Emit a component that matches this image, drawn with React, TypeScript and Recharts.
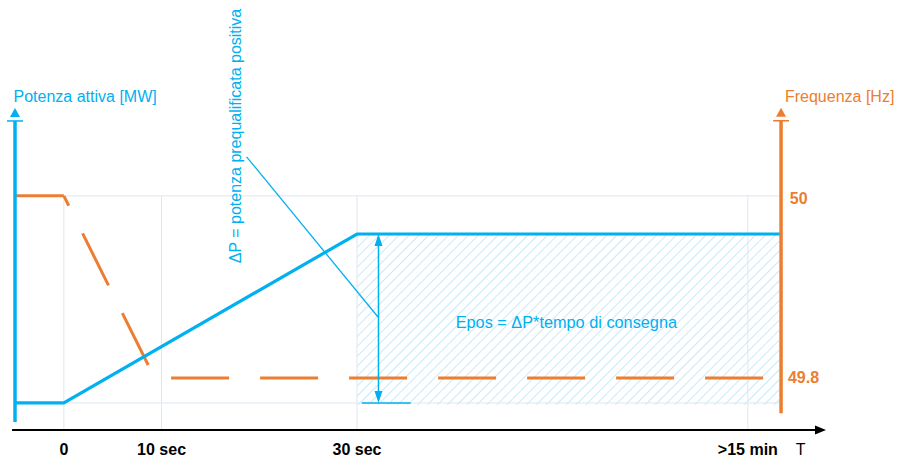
import { ComposedChart, Line, XAxis, YAxis, ReferenceLine, ReferenceArea, ReferenceDot } from 'recharts'

const BLUE = '#00b0f0'
const ORANGE = '#ed7d31'
const GRID = '#dfe7f1'
const FONT = '"Liberation Sans", Arial, sans-serif'

// schematic time axis: 70 stands for ">15 min", 75.4 carries the "T" label
const tickValues = [0, 10, 30, 70, 75.4]
const tickLabels = ['0', '10 sec', '30 sec', '>15 min', 'T']
const gridTimes = [0, 10, 30, 70]

// active power (MW, arbitrary: 0 = base, 10 = ΔP)
const powerT = [-5, 0, 30, 73.4]
const powerMW = [0, 0, 10, 10]

// frequency (Hz)
const freqSolidT = [-5, 0]
const freqSolidHz = [50, 50]
const freqDashT = [0, 9.3, 71.9]
const freqDashHz = [50, 49.8, 49.8]

const powerData = powerT.map((t, i) => ({ t, p: powerMW[i] }))
const freqSolid = freqSolidT.map((t, i) => ({ t, f: freqSolidHz[i] }))
const freqDash = freqDashT.map((t, i) => ({ t, f: freqDashHz[i] }))

type ArrowOpts = { color: string; width: number; head?: number; half?: number; bar?: number; both?: boolean }

const arrowShape = (o: ArrowOpts) => (props: any) => {
  const { x1, y1, x2, y2 } = props
  const head = o.head ?? 0
  const half = o.half ?? 0
  const dx = x2 - x1
  const dy = y2 - y1
  const len = Math.hypot(dx, dy) || 1
  const ux = dx / len
  const uy = dy / len
  const nx = -uy
  const ny = ux
  const tri = (tx: number, ty: number, sx: number, sy: number) => {
    const bx = tx - sx * head
    const by = ty - sy * head
    return `${tx},${ty} ${bx + nx * half},${by + ny * half} ${bx - nx * half},${by - ny * half}`
  }
  const gap = o.bar ? head + 4 : head * 0.8
  const ex = x2 - ux * gap
  const ey = y2 - uy * gap
  const sx0 = o.both ? x1 + ux * head * 0.8 : x1
  const sy0 = o.both ? y1 + uy * head * 0.8 : y1
  return (
    <g>
      <line x1={sx0} y1={sy0} x2={ex} y2={ey} stroke={o.color} strokeWidth={o.width} />
      {head > 0 && <polygon points={tri(x2, y2, ux, uy)} fill={o.color} />}
      {o.both && head > 0 && <polygon points={tri(x1, y1, -ux, -uy)} fill={o.color} />}
      {o.bar ? (
        <line
          x1={ex + nx * o.bar}
          y1={ey + ny * o.bar}
          x2={ex - nx * o.bar}
          y2={ey - ny * o.bar}
          stroke={o.color}
          strokeWidth={1.5}
        />
      ) : null}
    </g>
  )
}

const note =
  (text: string, color: string, opts: { bold?: boolean; rotate?: boolean; anchor?: string; size?: number } = {}) =>
  (props: any) => {
    const { cx, cy } = props
    return (
      <text
        x={cx}
        y={cy}
        fill={color}
        fontFamily={FONT}
        fontSize={opts.size ?? 16}
        fontWeight={opts.bold ? 700 : 400}
        textAnchor={opts.anchor ?? 'start'}
        dominantBaseline="central"
        transform={opts.rotate ? `rotate(-90 ${cx} ${cy})` : undefined}
      >
        {text}
      </text>
    )
  }

function TimeTick({ x, y, payload }: any) {
  const i = tickValues.indexOf(payload.value)
  const label = tickLabels[i] ?? ''
  return (
    <text
      x={x}
      y={y}
      dy="0.71em"
      textAnchor="middle"
      fontFamily={FONT}
      fontSize={16}
      fontWeight={label === 'T' ? 400 : 700}
      fill="#000"
    >
      {label}
    </text>
  )
}

export default function App() {
  return (
    <div style={{ position: 'absolute', left: 0, top: 0, width: 897, height: 457, background: '#fff' }}>
      <ComposedChart width={897} height={457} margin={{ top: 0, right: 71, bottom: 0, left: 15 }}>
        <defs>
          <pattern id="hatch" width="7" height="7" patternUnits="userSpaceOnUse" patternTransform="rotate(45)">
            <line x1="0" y1="0" x2="0" y2="7" stroke="#b6e2f6" strokeWidth={1.5} />
          </pattern>
        </defs>
        <XAxis
          dataKey="t"
          type="number"
          domain={[-5, 78]}
          allowDataOverflow
          ticks={tickValues}
          interval={0}
          axisLine={false}
          tickLine={false}
          tickSize={0}
          tickMargin={14}
          height={27}
          tick={<TimeTick />}
        />
        <YAxis yAxisId="p" type="number" domain={[-1.6, 23.85]} allowDataOverflow hide />
        <YAxis yAxisId="f" type="number" domain={[49.743, 50.215]} allowDataOverflow hide />

        {/* light grid */}
        <ReferenceLine yAxisId="f" segment={[{ x: -5, y: 50 }, { x: 73.4, y: 50 }]} stroke={GRID} strokeWidth={1} />
        <ReferenceLine yAxisId="p" segment={[{ x: -5, y: 0 }, { x: 73.4, y: 0 }]} stroke={GRID} strokeWidth={1} />
        {gridTimes.map((t) => (
          <ReferenceLine key={t} yAxisId="f" segment={[{ x: t, y: 50 }, { x: t, y: 49.743 }]} stroke={GRID} strokeWidth={1} />
        ))}

        {/* energy area */}
        <ReferenceArea yAxisId="p" x1={30} x2={73.2} y1={-0.1} y2={10} fill="url(#hatch)" fillOpacity={1} stroke="none" />

        {/* frequency */}
        <Line yAxisId="f" data={freqSolid} dataKey="f" type="linear" stroke={ORANGE} strokeWidth={3} dot={false} activeDot={false} isAnimationActive={false} />
        <Line
          yAxisId="f"
          data={freqDash}
          dataKey="f"
          type="linear"
          stroke={ORANGE}
          strokeWidth={3}
          strokeDasharray="58 31"
          strokeDashoffset={47}
          dot={false}
          activeDot={false}
          isAnimationActive={false}
        />

        {/* active power */}
        <Line yAxisId="p" data={powerData} dataKey="p" type="linear" stroke={BLUE} strokeWidth={3.2} dot={false} activeDot={false} isAnimationActive={false} />

        {/* ΔP double arrow, base tick and leader */}
        <ReferenceLine
          yAxisId="p"
          segment={[{ x: 32.2, y: 0 }, { x: 32.2, y: 10 }]}
          shape={arrowShape({ color: BLUE, width: 1.5, head: 12, half: 4, both: true })}
        />
        <ReferenceLine yAxisId="p" segment={[{ x: 30.5, y: 0 }, { x: 35.5, y: 0 }]} stroke={BLUE} strokeWidth={1.5} />
        <ReferenceLine yAxisId="p" segment={[{ x: 18.7, y: 14.57 }, { x: 32.15, y: 5.09 }]} stroke={BLUE} strokeWidth={1.3} />

        {/* axes */}
        <ReferenceLine
          yAxisId="p"
          segment={[{ x: -5, y: -1.12 }, { x: -5, y: 17.46 }]}
          ifOverflow="visible"
          shape={arrowShape({ color: BLUE, width: 3.5, head: 9, half: 5, bar: 8 })}
        />
        <ReferenceLine
          yAxisId="f"
          segment={[{ x: 73.4, y: 49.7615 }, { x: 73.4, y: 50.0967 }]}
          ifOverflow="visible"
          shape={arrowShape({ color: ORANGE, width: 3.5, head: 9, half: 5, bar: 8 })}
        />
        <ReferenceLine
          yAxisId="p"
          segment={[{ x: -5.3, y: -1.6 }, { x: 78, y: -1.6 }]}
          ifOverflow="visible"
          shape={arrowShape({ color: '#000', width: 1.8, head: 11, half: 4.5 })}
        />

        {/* texts */}
        <ReferenceDot yAxisId="p" x={-5.15} y={18.11} r={0} ifOverflow="visible" shape={note('Potenza attiva [MW]', BLUE)} />
        <ReferenceDot yAxisId="f" x={73.8} y={50.1088} r={0} ifOverflow="visible" shape={note('Frequenza [Hz]', ORANGE)} />
        <ReferenceDot yAxisId="f" x={74.3} y={49.9967} r={0} ifOverflow="visible" shape={note('50', ORANGE, { bold: true })} />
        <ReferenceDot yAxisId="f" x={74.1} y={49.801} r={0} ifOverflow="visible" shape={note('49.8', ORANGE, { bold: true })} />
        <ReferenceDot yAxisId="p" x={40.1} y={4.79} r={0} ifOverflow="visible" shape={note('Epos = ΔP*tempo di consegna', BLUE, { size: 16.3 })} />
        <ReferenceDot
          yAxisId="p"
          x={17.6}
          y={15.8}
          r={0}
          ifOverflow="visible"
          shape={note('ΔP = potenza prequalificata positiva', BLUE, { rotate: true, anchor: 'middle' })}
        />
      </ComposedChart>
    </div>
  )
}
